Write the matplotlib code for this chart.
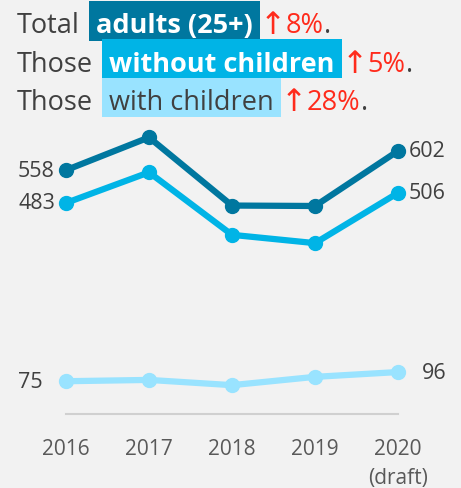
import matplotlib
matplotlib.use("Agg")
import matplotlib.pyplot as plt
from matplotlib.patches import Rectangle

years = ["2016", "2017", "2018", "2019", "2020\n(draft)"]
total_adults = [558, 633, 477, 476, 602]
without_children = [483, 553, 410, 391, 506]
with_children = [75, 78, 66, 85, 96]

dark = "#00779f"
mid = "#00b4e6"
light = "#99e3ff"
grey = "#404040"
red = "#ff2b1c"
bg = "#f2f2f2"

W, H = 461, 489
plt.rcParams["font.family"] = ["Open Sans", "DejaVu Sans"]

fig = plt.figure(figsize=(W / 100, H / 100), dpi=100, facecolor=bg)

def px(x, y):
    return x / W, 1 - y / H

# axes placed in pixels: year 0 at x=66, 83px per year; value 0 at y=415
x0, step = 66, 83
left = x0 - 0.3 * step
right = x0 + 4.3 * step
ymax = 700
scale = 0.437
ax = fig.add_axes([left / W, 1 - 415 / H, (right - left) / W, ymax * scale / H])
ax.set_facecolor(bg)
ax.set_xlim(-0.3, 4.3)
ax.set_ylim(0, ymax)
for s in ax.spines.values():
    s.set_visible(False)
ax.set_yticks([])
xs = list(range(len(years)))
ax.set_xticks(xs)
ax.set_xticklabels(years, fontsize=15, color="#595959", linespacing=1.5)
ax.tick_params(axis="x", length=0, pad=17)
ax.plot([0, 4], [0, 0], color="#d0d0d0", lw=1.5, clip_on=False)

for vals, col in [(with_children, light), (without_children, mid), (total_adults, dark)]:
    ax.plot(xs, vals, color=col, lw=4.5, marker="o", ms=10, clip_on=False)

lab = dict(fontsize=15.5, color=grey, va="center")
ax.annotate(str(total_adults[0]), (0, total_adults[0]), xytext=(-8, 0), textcoords="offset points", ha="right", **lab)
ax.annotate(str(without_children[0]), (0, without_children[0]), xytext=(-8, 0), textcoords="offset points", ha="right", **lab)
ax.annotate(str(with_children[0]), (0, with_children[0]), xytext=(-17, 0), textcoords="offset points", ha="right", **lab)
ax.annotate(str(total_adults[-1]), (4, total_adults[-1]), xytext=(8, 0), textcoords="offset points", ha="left", **lab)
ax.annotate(str(without_children[-1]), (4, without_children[-1]), xytext=(8, 0), textcoords="offset points", ha="left", **lab)
ax.annotate(str(with_children[-1]), (4, with_children[-1]), xytext=(17, 0), textcoords="offset points", ha="left", **lab)

# headline with highlighted phrases
fs = 19.5
lines = [
    ("Total", "adults (25+)", dark, "white", "bold", "8%", 33, 2, 42),
    ("Those", "without children", mid, "white", "bold", "5%", 72, 40, 79),
    ("Those", "with children", light, grey, "normal", "28%", 110, 79, 118),
]
renderer = fig.canvas.get_renderer()

def put(x, y, s, size=fs, **kw):
    t = fig.text(*px(x, y), s, fontsize=size, va="baseline", ha="left", **kw)
    bb = t.get_window_extent(renderer)
    return t, bb.x1

for first, hl, boxcol, hlcol, weight, pct, base, btop, bbot in lines:
    _, xe = put(17, base, first, color=grey)
    bx = xe + 9
    t, xe2 = put(bx + 7, base, hl, color=hlcol, fontweight=weight, zorder=3)
    fig.patches.append(Rectangle(px(bx, bbot), (xe2 + 7 - bx) / W, (bbot - btop) / H,
                                 transform=fig.transFigure, facecolor=boxcol, edgecolor="none", zorder=1))
    _, xa = put(xe2 + 7, base + 1, "\u2191", size=fs + 3, color=red, family="DejaVu Sans")
    _, xe3 = put(xa, base, pct, color=red)
    put(xe3, base, ".", color=grey)

fig.savefig("out.png", dpi=100, facecolor=bg)
